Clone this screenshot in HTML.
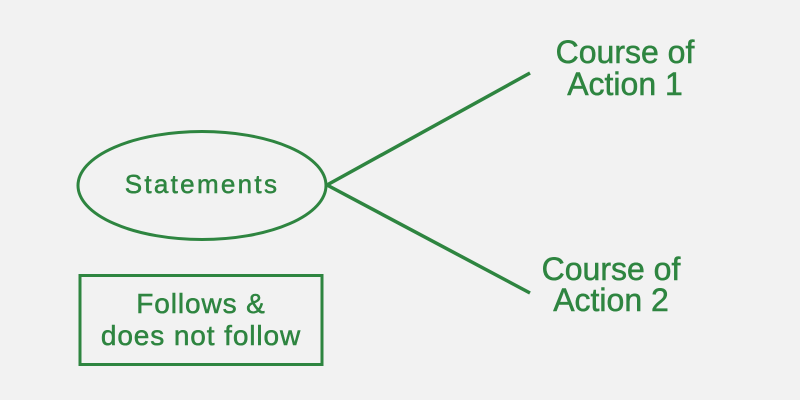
<!DOCTYPE html>
<html><head><style>
html,body{margin:0;padding:0;background:#f2f2f2;}
svg{display:block;}
text{font-family:"Liberation Sans","DejaVu Sans",sans-serif;fill:#2e8540;stroke:#2e8540;stroke-width:0.5;}
</style></head><body>
<svg width="800" height="400" viewBox="0 0 800 400">
<rect width="800" height="400" fill="#f2f2f2"/>
<ellipse cx="202" cy="185.5" rx="124" ry="54" fill="none" stroke="#2e8540" stroke-width="3"/>
<line x1="327" y1="185" x2="530" y2="73" stroke="#2e8540" stroke-width="3.5"/>
<line x1="327" y1="185" x2="530" y2="293" stroke="#2e8540" stroke-width="3.5"/>
<rect x="80" y="275.5" width="242" height="89" fill="none" stroke="#2e8540" stroke-width="3"/>
<text x="202" y="193" font-size="26" letter-spacing="2.3" text-anchor="middle">Statements</text>
<text x="201" y="313" font-size="28" letter-spacing="0.9" text-anchor="middle">Follows &amp;</text>
<text x="201" y="345" font-size="28" letter-spacing="0.9" text-anchor="middle">does not follow</text>
<text x="625" y="63" font-size="32" text-anchor="middle">Course of</text>
<text x="625" y="95" font-size="32" text-anchor="middle">Action 1</text>
<text x="611" y="280" font-size="32" text-anchor="middle">Course of</text>
<text x="611" y="311" font-size="32" text-anchor="middle">Action 2</text>
</svg>
</body></html>
